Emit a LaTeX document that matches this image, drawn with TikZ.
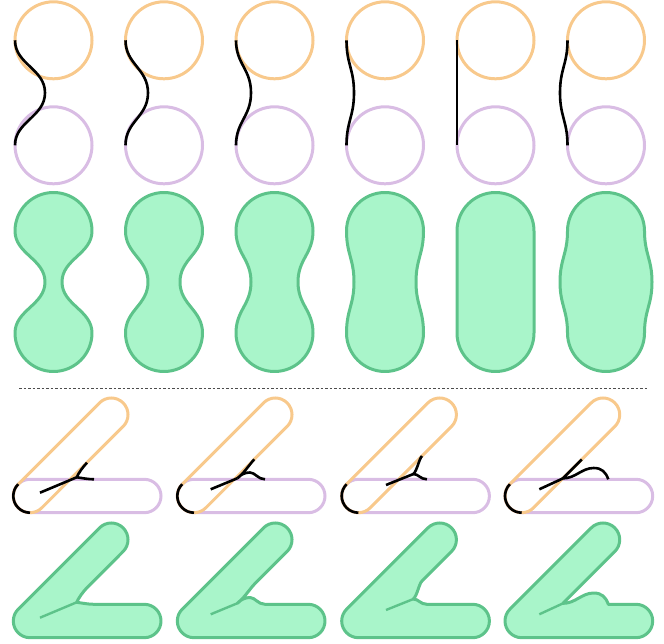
\documentclass[tikz,border=0pt]{standalone}
\definecolor{corange}{HTML}{F8C98C}
\definecolor{cpurple}{HTML}{D9BDE4}
\definecolor{gfill}{HTML}{A9F5CA}
\definecolor{gline}{HTML}{5DC38A}
\begin{document}
\begin{tikzpicture}[x=1pt,y=1pt,
  ringO/.style={draw=corange,line width=3pt},
  ringP/.style={draw=cpurple,line width=3pt},
  blackline/.style={draw=black,line width=2.6pt},
  blob/.style={draw=gline,fill=gfill,line width=3pt,line join=round},
  crease/.style={draw=gline,line width=2.4pt},
  sep/.style={draw=black!70,line width=1pt,dash pattern=on 2.5pt off 2pt}]
\useasboundingbox (0,-644) rectangle (664,0);

% ---- row 1: circle pairs with black connecting curve
\foreach \i in {0,...,5}{
  \pgfmathsetmacro\Lx{15+110.5*\i}
  \pgfmathsetmacro\Cx{\Lx+38.5}
  \pgfmathsetmacro\Bx{\Lx+30-7.5*\i}
  \draw[ringO] (\Cx,-40.3) circle[radius=38.5];
  \draw[ringP] (\Cx,-145.3) circle[radius=38.5];
  \draw[blackline] (\Lx,-40.3) .. controls (\Lx,-64.3) and (\Bx,-68.8) .. (\Bx,-92.8)
     .. controls (\Bx,-116.8) and (\Lx,-121.3) .. (\Lx,-145.3);
}

% ---- row 2: green blobs
\foreach \i in {0,...,5}{
  \pgfmathsetmacro\Lx{15+110.5*\i}
  \pgfmathsetmacro\Rx{\Lx+77}
  \pgfmathsetmacro\Bl{\Lx+30-7.5*\i}
  \pgfmathsetmacro\Br{\Rx-30+7.5*\i}
  \draw[blob] (\Lx,-231) arc[start angle=180,end angle=0,radius=38.5]
    .. controls (\Rx,-254) and (\Br,-259) .. (\Br,-282)
    .. controls (\Br,-305) and (\Rx,-310) .. (\Rx,-333)
    arc[start angle=0,end angle=-180,radius=38.5]
    .. controls (\Lx,-310) and (\Bl,-305) .. (\Bl,-282)
    .. controls (\Bl,-259) and (\Lx,-254) .. cycle;
}

% ---- separator
\draw[sep] (19,-388) -- (648,-388);

% ---- row 3 / row 4 common capsule outlines
\newcommand\capsuleoutlines{%
  \draw[ringP] (0,16.7) -- (114.3,16.7) arc[start angle=90,end angle=-90,radius=16.7]
     -- (0,-16.7) arc[start angle=-90,end angle=-270,radius=16.7] -- cycle;
  \draw[ringO] (-11.81,11.81) -- (69.5,93.12) arc[start angle=135,end angle=-45,radius=16.7]
     -- (11.81,-11.81) arc[start angle=-45,end angle=-225,radius=16.7] -- cycle;
  \draw[blackline] (-11.81,11.81) arc[start angle=135,end angle=270,radius=16.7];
}

% column 1
\begin{scope}[shift={(30,-496)}]
  \capsuleoutlines
  \draw[blackline] (57,33.3) .. controls (53.5,29.8) and (48.5,23) .. (46.7,18.7)
     .. controls (52,18) and (58,16.7) .. (64,16.7);
  \draw[blackline] (10,3.3) -- (46.7,18.7);
\end{scope}
\begin{scope}[shift={(30,-621)}]
  \draw[blob] (-11.81,11.81) -- (69.5,93.12) arc[start angle=135,end angle=-45,radius=16.7]
     -- (57,33.3) .. controls (53.5,29.8) and (48.5,23) .. (46.7,18.7)
     .. controls (52,18) and (58,16.7) .. (64,16.7)
     -- (114.3,16.7) arc[start angle=90,end angle=-90,radius=16.7]
     -- (0,-16.7) arc[start angle=-90,end angle=-225,radius=16.7] -- cycle;
  \draw[crease] (10,3.3) -- (46.7,18.7);
\end{scope}

% column 2
\begin{scope}[shift={(194,-496)}]
  \capsuleoutlines
  \draw[blackline] (60.3,36.7) .. controls (56.5,32.9) and (49,21.5) .. (43.3,17.7)
     .. controls (47,21.5) and (51,23.5) .. (56,23.5)
     .. controls (61,23.5) and (64,16.7) .. (71,16.7);
  \draw[blackline] (16.7,6.7) -- (43.3,17.7);
\end{scope}
\begin{scope}[shift={(194,-621)}]
  \draw[blob] (-11.81,11.81) -- (69.5,93.12) arc[start angle=135,end angle=-45,radius=16.7]
     -- (60.3,36.7) .. controls (56.5,32.9) and (49,21.5) .. (43.3,17.7)
     .. controls (47,21.5) and (51,23.5) .. (56,23.5)
     .. controls (61,23.5) and (64,16.7) .. (71,16.7)
     -- (114.3,16.7) arc[start angle=90,end angle=-90,radius=16.7]
     -- (0,-16.7) arc[start angle=-90,end angle=-225,radius=16.7] -- cycle;
  \draw[crease] (16.7,6.7) -- (43.3,17.7);
\end{scope}

% column 3
\begin{scope}[shift={(358.4,-496)}]
  \capsuleoutlines
  \draw[blackline] (63.6,40) .. controls (60.5,36.9) and (59,26) .. (55,22)
     .. controls (60,22) and (62,16.7) .. (68.5,16.7);
  \draw[blackline] (27.6,11) -- (55,22);
\end{scope}
\begin{scope}[shift={(358.4,-621)}]
  \draw[blob] (-11.81,11.81) -- (69.5,93.12) arc[start angle=135,end angle=-45,radius=16.7]
     -- (63.6,40) .. controls (60.5,36.9) and (59,26) .. (55,22)
     .. controls (60,22) and (62,16.7) .. (68.5,16.7)
     -- (114.3,16.7) arc[start angle=90,end angle=-90,radius=16.7]
     -- (0,-16.7) arc[start angle=-90,end angle=-225,radius=16.7] -- cycle;
  \draw[crease] (27.6,11) -- (55,22);
\end{scope}

% column 4
\begin{scope}[shift={(521.7,-496)}]
  \capsuleoutlines
  \draw[blackline] (60.1,36.5) -- (41.2,17.6)
     .. controls (54,17.7) and (60,28) .. (72,28)
     .. controls (80,28) and (84,24) .. (86.6,16.7);
  \draw[blackline] (17.6,6.7) -- (41.2,17.6);
\end{scope}
\begin{scope}[shift={(521.7,-621)}]
  \draw[blob] (-11.81,11.81) -- (69.5,93.12) arc[start angle=135,end angle=-45,radius=16.7]
     -- (41.2,17.6)
     .. controls (54,17.7) and (60,28) .. (72,28)
     .. controls (80,28) and (84,24) .. (86.6,16.7)
     -- (114.3,16.7) arc[start angle=90,end angle=-90,radius=16.7]
     -- (0,-16.7) arc[start angle=-90,end angle=-225,radius=16.7] -- cycle;
  \draw[crease] (17.6,6.7) -- (41.2,17.6);
\end{scope}
\end{tikzpicture}
\end{document}
